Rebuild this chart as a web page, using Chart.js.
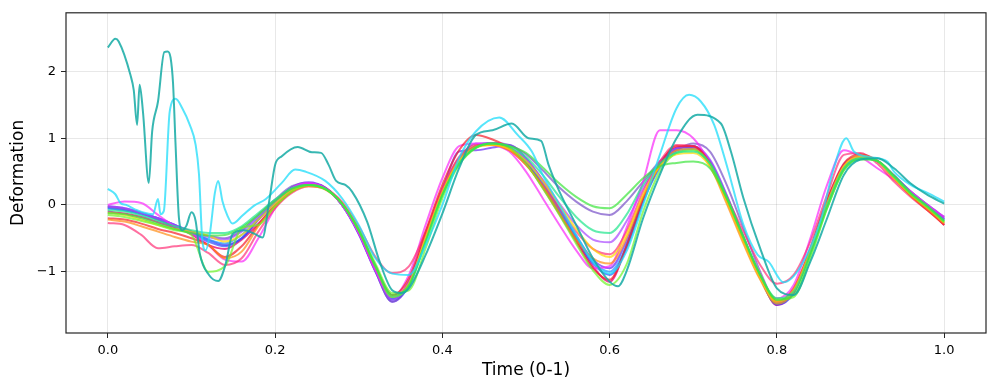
<!DOCTYPE html>
<html>
<head>
<meta charset="utf-8">
<script src="https://cdn.jsdelivr.net/npm/chart.js@4/dist/chart.umd.min.js"></script>
<style>
html,body{margin:0;padding:0;background:#fff;}
canvas{display:block;}
</style>
</head>
<body>
<canvas id="c" width="996" height="392"></canvas>
<script>
// shared time grid for the smooth series
const times = [0,0.02,0.04,0.06,0.08,0.10,0.12,0.14,0.16,0.18,0.20,0.22,0.24,0.26,0.28,0.30,0.32,0.34,0.36,0.38,0.40,0.42,0.44,0.46,0.48,0.50,0.52,0.54,0.56,0.58,0.60,0.62,0.64,0.66,0.68,0.70,0.72,0.74,0.76,0.78,0.80,0.82,0.84,0.86,0.88,0.90,0.92,0.94,0.96,0.98,1.00];

const xTicks = [0,0.2,0.4,0.6,0.8,1.0];
const yTicks = [-1,0,1,2];

// irregular series (own time stamps)
const tealTimes = [0,0.009,0.013,0.027,0.031,0.035,0.038,0.042,0.049,0.053,0.06,0.0675,0.0715,0.075,0.078,0.081,0.085,0.089,0.094,0.1,0.105,0.11,0.121,0.132,0.141,0.149,0.163,0.175,0.185,0.193,0.2,0.208,0.227,0.244,0.255,0.264,0.273,0.284,0.292,0.31,0.325,0.34,0.35,0.36,0.38,0.40,0.42,0.44,0.46,0.483,0.503,0.518,0.527,0.54,0.56,0.58,0.60,0.61,0.62,0.64,0.66,0.68,0.705,0.733,0.745,0.76,0.78,0.80,0.82,0.84,0.86,0.88,0.90,0.92,0.94,0.96,0.98,1.0];
const tealValues = [2.36,2.49,2.45,1.95,1.72,1.2,1.8,1.4,0.33,1.1,1.55,2.29,2.3,2.21,1.82,0.9,-0.19,-0.38,-0.31,-0.11,-0.24,-0.73,-1.05,-1.14,-0.88,-0.44,-0.38,-0.43,-0.49,0.06,0.6,0.73,0.87,0.79,0.78,0.6,0.36,0.3,0.2,-0.25,-0.85,-1.28,-1.32,-1.25,-0.75,-0.13,0.55,1.05,1.12,1.22,1.0,0.96,0.6,0.2,-0.3,-0.8,-1.15,-1.22,-1.0,-0.2,0.45,1.0,1.35,1.22,0.8,0.1,-0.65,-1.25,-1.35,-0.85,-0.2,0.45,0.68,0.7,0.55,0.32,0.15,0.02];

const cyanTimes = [0,0.009,0.015,0.022,0.035,0.054,0.06,0.063,0.067,0.074,0.081,0.089,0.098,0.105,0.109,0.113,0.117,0.122,0.128,0.132,0.137,0.143,0.149,0.161,0.175,0.189,0.208,0.224,0.236,0.26,0.28,0.30,0.32,0.34,0.36,0.38,0.40,0.42,0.44,0.468,0.49,0.507,0.52,0.54,0.56,0.58,0.60,0.62,0.64,0.66,0.68,0.695,0.709,0.725,0.741,0.76,0.777,0.79,0.808,0.828,0.852,0.868,0.883,0.892,0.91,0.932,0.94,0.96,0.98,1.0];
const cyanValues = [0.24,0.16,0.03,0.0,-0.08,-0.14,0.09,-0.14,-0.09,1.4,1.59,1.45,1.2,0.9,0.46,-0.53,-0.68,-0.43,0.18,0.36,0.06,-0.16,-0.28,-0.16,-0.01,0.09,0.33,0.53,0.5,0.36,0.1,-0.3,-0.8,-1.03,-1.05,-0.6,0.0,0.7,1.1,1.31,1.05,0.8,0.45,0.0,-0.45,-0.85,-1.03,-0.7,0.0,0.75,1.45,1.65,1.55,1.2,0.55,-0.3,-0.75,-0.85,-1.16,-0.93,-0.24,0.55,1.0,0.8,0.72,0.65,0.5,0.3,0.18,0.05];

// smooth series on the shared grid
const green = [-0.12,-0.14,-0.20,-0.28,-0.36,-0.42,-0.46,-0.45,-0.34,-0.15,0.06,0.24,0.30,0.24,0.02,-0.38,-0.92,-1.35,-1.20,-0.55,0.15,0.62,0.86,0.92,0.88,0.78,0.56,0.32,0.12,-0.02,-0.05,0.15,0.40,0.58,0.63,0.65,0.55,0.10,-0.48,-1.05,-1.42,-1.35,-0.75,-0.05,0.52,0.68,0.66,0.44,0.18,-0.02,-0.24];
const springGreen = [-0.08,-0.10,-0.16,-0.24,-0.32,-0.38,-0.42,-0.42,-0.32,-0.12,0.08,0.25,0.30,0.24,0.02,-0.38,-0.92,-1.38,-1.22,-0.55,0.15,0.62,0.86,0.92,0.88,0.72,0.45,0.12,-0.18,-0.38,-0.42,-0.15,0.30,0.62,0.78,0.80,0.62,0.12,-0.48,-1.05,-1.40,-1.30,-0.72,0.00,0.55,0.70,0.66,0.42,0.18,-0.02,-0.24];
const lime = [-0.15,-0.18,-0.24,-0.30,-0.38,-0.45,-1.00,-0.92,-0.35,-0.30,-0.02,0.20,0.30,0.24,0.02,-0.36,-0.88,-1.32,-1.28,-0.65,0.10,0.60,0.85,0.92,0.86,0.62,0.25,-0.15,-0.58,-0.98,-1.20,-0.90,-0.10,0.50,0.78,0.82,0.62,0.10,-0.50,-1.05,-1.42,-1.38,-0.80,-0.05,0.52,0.70,0.66,0.42,0.16,-0.04,-0.26];
const yellow = [-0.12,-0.15,-0.22,-0.30,-0.36,-0.40,-0.46,-0.55,-0.45,-0.22,0.02,0.22,0.30,0.24,0.02,-0.38,-0.92,-1.38,-1.18,-0.50,0.18,0.66,0.86,0.90,0.84,0.66,0.36,0.00,-0.36,-0.66,-0.78,-0.45,0.15,0.58,0.76,0.78,0.58,0.05,-0.55,-1.10,-1.45,-1.28,-0.68,0.02,0.58,0.72,0.66,0.40,0.16,-0.04,-0.26];
const orange = [-0.22,-0.25,-0.32,-0.40,-0.48,-0.55,-0.60,-0.80,-0.70,-0.32,-0.02,0.20,0.28,0.23,0.02,-0.38,-0.92,-1.38,-1.20,-0.48,0.20,0.68,0.88,0.90,0.82,0.60,0.28,-0.12,-0.52,-0.80,-0.88,-0.50,0.12,0.58,0.82,0.84,0.58,0.02,-0.58,-1.12,-1.48,-1.30,-0.70,0.02,0.58,0.74,0.66,0.40,0.14,-0.06,-0.28];
const red = [-0.20,-0.22,-0.28,-0.36,-0.42,-0.50,-0.60,-0.78,-0.62,-0.30,-0.02,0.20,0.30,0.24,0.02,-0.38,-0.92,-1.35,-1.10,-0.40,0.30,0.82,1.05,0.98,0.85,0.62,0.26,-0.14,-0.55,-0.95,-1.12,-0.62,0.08,0.60,0.88,0.88,0.62,0.08,-0.52,-1.05,-1.45,-1.25,-0.65,0.08,0.62,0.76,0.66,0.40,0.14,-0.08,-0.30];
const pink = [-0.27,-0.30,-0.45,-0.65,-0.62,-0.60,-0.72,-0.90,-0.80,-0.40,-0.05,0.18,0.28,0.24,0.05,-0.32,-0.78,-1.02,-0.92,-0.40,0.25,0.72,0.90,0.90,0.82,0.60,0.30,-0.05,-0.40,-0.66,-0.74,-0.40,0.20,0.65,0.90,0.88,0.62,0.12,-0.40,-0.90,-1.18,-1.05,-0.55,0.15,0.75,0.78,0.62,0.35,0.12,-0.08,-0.28];
const magenta = [0.00,0.05,0.03,-0.15,-0.32,-0.42,-0.60,-0.82,-0.85,-0.50,-0.05,0.25,0.33,0.25,0.00,-0.42,-0.98,-1.38,-1.05,-0.30,0.40,0.88,0.92,0.90,0.80,0.50,0.10,-0.30,-0.68,-0.95,-0.92,-0.35,0.35,1.12,1.12,1.00,0.62,0.05,-0.55,-1.10,-1.40,-1.20,-0.50,0.30,0.82,0.72,0.55,0.38,0.20,0.00,-0.18];
const violet = [-0.02,-0.05,-0.12,-0.20,-0.30,-0.40,-0.48,-0.52,-0.40,-0.18,0.05,0.25,0.33,0.25,0.00,-0.42,-0.98,-1.42,-1.15,-0.45,0.22,0.70,0.92,0.93,0.86,0.68,0.38,0.02,-0.30,-0.52,-0.56,-0.25,0.25,0.65,0.85,0.88,0.68,0.15,-0.48,-1.08,-1.45,-1.28,-0.65,0.05,0.60,0.72,0.66,0.42,0.18,-0.02,-0.22];
const mediumPurple = [-0.03,-0.06,-0.12,-0.22,-0.32,-0.40,-0.46,-0.50,-0.38,-0.15,0.08,0.28,0.33,0.25,0.00,-0.42,-1.00,-1.45,-1.18,-0.48,0.20,0.68,0.88,0.93,0.90,0.76,0.52,0.26,0.05,-0.10,-0.15,0.05,0.35,0.65,0.82,0.92,0.80,0.30,-0.35,-1.00,-1.45,-1.32,-0.70,0.00,0.55,0.70,0.66,0.44,0.20,0.00,-0.20];
const dodgerBlue = [-0.05,-0.08,-0.14,-0.22,-0.32,-0.42,-0.52,-0.58,-0.45,-0.20,0.05,0.25,0.32,0.25,0.00,-0.40,-0.95,-1.40,-1.22,-0.52,0.18,0.66,0.88,0.92,0.86,0.66,0.32,-0.08,-0.48,-0.85,-1.00,-0.62,0.05,0.55,0.80,0.84,0.64,0.12,-0.50,-1.08,-1.48,-1.32,-0.68,0.02,0.58,0.72,0.66,0.42,0.18,-0.02,-0.22];
const royalBlue = [-0.05,-0.08,-0.13,-0.20,-0.30,-0.42,-0.55,-0.62,-0.50,-0.22,0.04,0.26,0.33,0.25,0.00,-0.42,-0.98,-1.42,-1.20,-0.50,0.20,0.68,0.88,0.92,0.86,0.66,0.30,-0.10,-0.50,-0.88,-1.05,-0.65,0.05,0.58,0.84,0.86,0.64,0.12,-0.50,-1.08,-1.48,-1.30,-0.68,0.02,0.58,0.72,0.66,0.42,0.18,-0.02,-0.22];
const indigo = [-0.02,-0.05,-0.12,-0.20,-0.30,-0.40,-0.52,-0.60,-0.50,-0.22,0.04,0.26,0.34,0.26,0.00,-0.44,-1.00,-1.45,-1.20,-0.48,0.22,0.80,0.82,0.86,0.90,0.70,0.36,-0.05,-0.46,-0.82,-0.95,-0.55,0.10,0.62,0.85,0.88,0.66,0.14,-0.48,-1.08,-1.50,-1.32,-0.68,0.04,0.60,0.72,0.66,0.44,0.20,0.00,-0.18];
const deepPink = [-0.10,-0.13,-0.18,-0.26,-0.34,-0.44,-0.60,-0.66,-0.52,-0.28,0.00,0.22,0.32,0.26,0.02,-0.40,-0.95,-1.40,-1.15,-0.45,0.22,0.70,0.88,0.92,0.85,0.64,0.28,-0.12,-0.52,-0.92,-1.15,-0.62,0.10,0.62,0.86,0.88,0.64,0.10,-0.50,-1.08,-1.50,-1.30,-0.70,0.05,0.60,0.72,0.66,0.40,0.15,-0.05,-0.30];

const zipPts = (ts, vs) => ts.map((t, i) => ({x: t, y: vs[i]}));

const seriesList = [
  {pts: zipPts(tealTimes, tealValues), color: 'rgba(20,170,165,0.85)'},
  {pts: zipPts(cyanTimes, cyanValues), color: 'rgba(30,220,250,0.75)'},
  {pts: zipPts(times, green), color: 'rgba(60,230,60,0.7)'},
  {pts: zipPts(times, springGreen), color: 'rgba(30,230,140,0.7)'},
  {pts: zipPts(times, lime), color: 'rgba(110,245,40,0.7)'},
  {pts: zipPts(times, yellow), color: 'rgba(255,215,0,0.7)'},
  {pts: zipPts(times, orange), color: 'rgba(255,140,20,0.7)'},
  {pts: zipPts(times, red), color: 'rgba(245,30,40,0.7)'},
  {pts: zipPts(times, pink), color: 'rgba(255,50,120,0.7)'},
  {pts: zipPts(times, magenta), color: 'rgba(250,40,250,0.7)'},
  {pts: zipPts(times, violet), color: 'rgba(170,70,255,0.7)'},
  {pts: zipPts(times, mediumPurple), color: 'rgba(120,80,200,0.7)'},
  {pts: zipPts(times, dodgerBlue), color: 'rgba(30,150,255,0.7)'},
  {pts: zipPts(times, royalBlue), color: 'rgba(40,80,255,0.7)'},
  {pts: zipPts(times, indigo), color: 'rgba(100,40,250,0.7)'},
  {pts: zipPts(times, deepPink), color: 'rgba(230,0,110,0.75)'}
];

const frame = {
  id: 'frame',
  afterDraw(chart) {
    const {ctx, chartArea: a} = chart;
    ctx.save();
    ctx.strokeStyle = '#262626';
    ctx.lineWidth = 1.2;
    ctx.strokeRect(a.left, a.top, a.right - a.left, a.bottom - a.top);
    ctx.restore();
  }
};

const fontFam = "'DejaVu Sans', sans-serif";

new Chart(document.getElementById('c'), {
  type: 'line',
  data: {
    datasets: seriesList.map(s => ({
      data: s.pts,
      borderColor: s.color,
      borderWidth: 2,
      pointRadius: 0,
      fill: false,
      cubicInterpolationMode: 'monotone'
    }))
  },
  options: {
    responsive: false,
    animation: false,
    parsing: false,
    layout: {padding: {top: 10, right: 10, left: 0, bottom: 0}},
    plugins: {legend: {display: false}, tooltip: {enabled: false}},
    scales: {
      x: {
        type: 'linear',
        min: -0.05,
        max: 1.05,
        afterBuildTicks: s => { s.ticks = xTicks.map(v => ({value: v})); },
        afterFit: s => { s.height = 59; },
        ticks: {
          callback: v => v.toFixed(1),
          color: '#000',
          font: {family: fontFam, size: 13},
          padding: 5,
          maxRotation: 0
        },
        grid: {color: 'rgba(0,0,0,0.09)', tickColor: '#262626', tickLength: 5, lineWidth: 1},
        border: {display: false},
        title: {display: true, text: 'Time (0-1)', color: '#000', font: {family: fontFam, size: 17}, padding: {top: 0, bottom: 11}}
      },
      y: {
        type: 'linear',
        min: -1.92,
        max: 2.88,
        afterBuildTicks: s => { s.ticks = yTicks.map(v => ({value: v})); },
        afterFit: s => { s.width = 66; },
        ticks: {
          callback: v => (v < 0 ? '\u2212' + Math.abs(v) : String(v)),
          color: '#000',
          font: {family: fontFam, size: 13},
          padding: 5
        },
        grid: {color: 'rgba(0,0,0,0.09)', tickColor: '#262626', tickLength: 5, lineWidth: 1},
        border: {display: false},
        title: {display: true, text: 'Deformation', color: '#000', font: {family: fontFam, size: 17}, padding: {top: 8, bottom: 0}}
      }
    }
  },
  plugins: [frame]
});
</script>
</body>
</html>
